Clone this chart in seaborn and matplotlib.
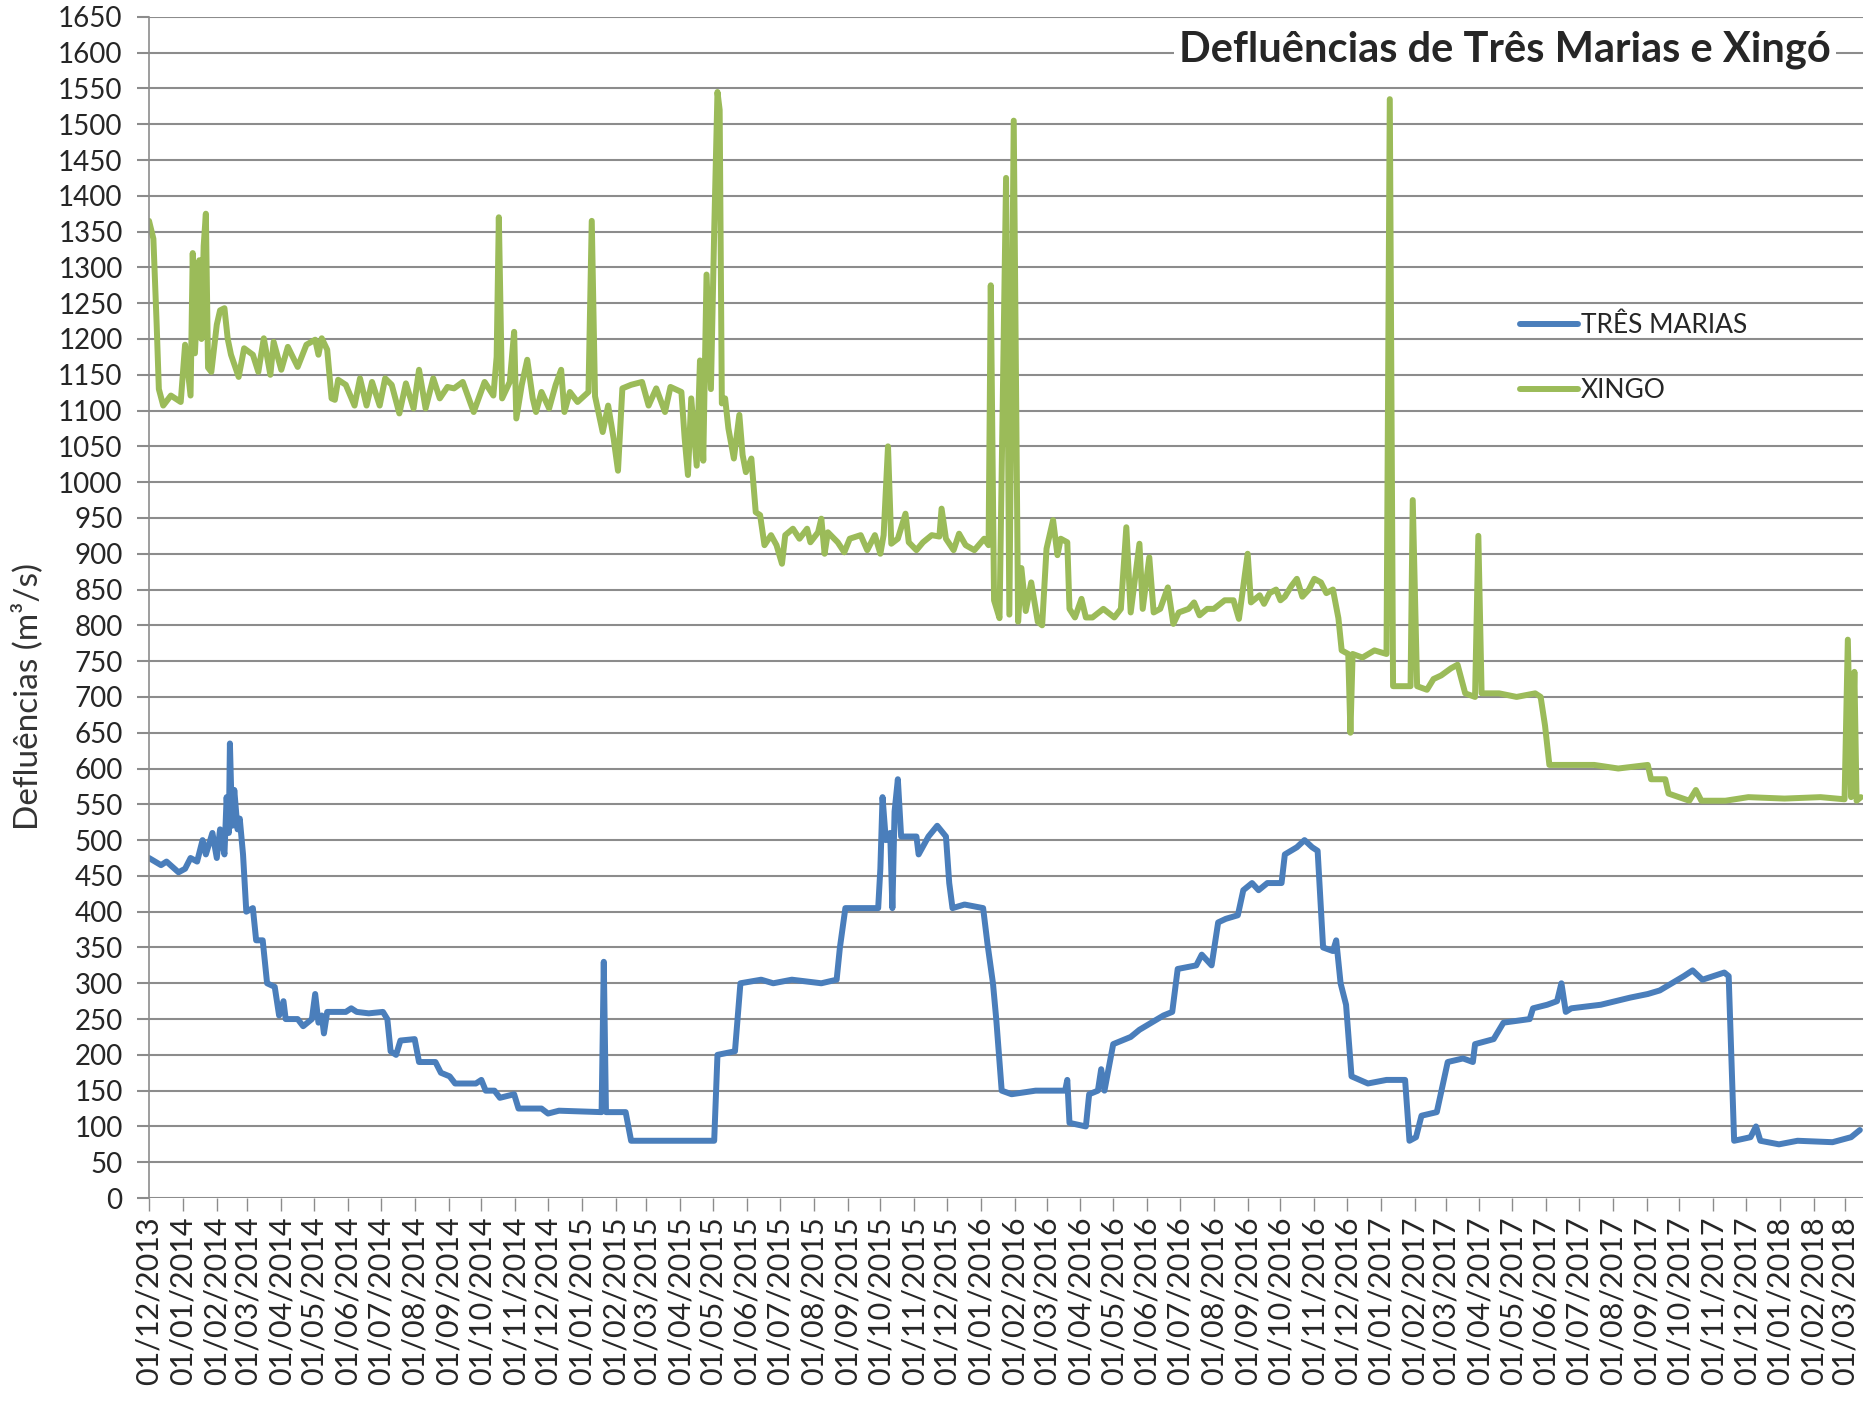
import numpy as np
import pandas as pd
import seaborn as sns
import matplotlib.pyplot as plt
import matplotlib.dates as mdates

inicio = pd.Timestamp("2013-12-01")

# dias contados a partir de 01/12/2013 e defluências (m3/s)
tm_dias = [0, 11, 16, 27, 33, 38, 44, 49, 52, 58,
           62, 65, 69, 71, 73, 74, 76, 78, 81, 83,
           86, 89, 95, 98, 104, 108, 115, 119, 123, 125,
           136, 141, 149, 152, 155, 158, 160, 163, 180, 185,
           190, 201, 214, 218, 221, 226, 230, 243, 247, 262,
           267, 275, 280, 299, 304, 308, 316, 321, 334, 338,
           359, 365, 375, 414, 416, 418, 436, 441, 473, 517,
           520, 536, 541, 560, 571, 588, 615, 629, 632, 637,
           667, 669, 671, 674, 678, 680, 682, 685, 688, 702,
           704, 713, 721, 729, 732, 735, 746, 763, 767, 772,
           775, 780, 789, 811, 838, 840, 842, 857, 860, 868,
           871, 874, 882, 898, 906, 917, 928, 936, 941, 958,
           963, 972, 978, 985, 996, 1001, 1009, 1015, 1023, 1036,
           1039, 1050, 1057, 1064, 1069, 1074, 1083, 1086, 1090, 1095,
           1100, 1115, 1132, 1149, 1153, 1159, 1164, 1178, 1183, 1188,
           1202, 1211, 1213, 1230, 1239, 1263, 1266, 1279, 1288, 1292,
           1296, 1301, 1328, 1355, 1371, 1382, 1393, 1404, 1412, 1421,
           1441, 1445, 1450, 1465, 1470, 1474, 1491, 1508, 1540, 1557,
           1565]
tm_vazao = [475, 465, 470, 455, 460, 475, 470, 500, 480, 510,
            475, 515, 480, 560, 510, 635, 520, 570, 515, 530,
            480, 400, 405, 360, 360, 300, 295, 255, 275, 250,
            250, 240, 250, 285, 245, 255, 230, 260, 260, 265,
            260, 258, 260, 250, 205, 200, 220, 222, 190, 190,
            175, 170, 160, 160, 165, 150, 150, 140, 145, 125,
            125, 118, 122, 120, 330, 120, 120, 80, 80, 80,
            200, 205, 300, 305, 300, 305, 300, 305, 350, 405,
            405, 460, 560, 500, 510, 405, 540, 585, 505, 505,
            480, 505, 520, 505, 440, 405, 410, 405, 355, 300,
            250, 150, 145, 150, 150, 165, 105, 100, 145, 150,
            180, 150, 215, 225, 235, 245, 255, 260, 320, 325,
            340, 325, 385, 390, 395, 430, 440, 430, 440, 440,
            480, 490, 500, 490, 485, 350, 345, 360, 300, 270,
            170, 160, 165, 165, 80, 85, 115, 120, 155, 190,
            195, 190, 215, 222, 245, 250, 265, 270, 275, 300,
            260, 265, 270, 280, 285, 290, 300, 310, 318, 305,
            315, 310, 80, 85, 100, 80, 75, 80, 78, 85,
            95]

xg_dias = [0, 4, 7, 9, 13, 20, 29, 33, 36, 38,
           40, 42, 46, 48, 50, 52, 54, 57, 62, 65,
           69, 72, 75, 82, 87, 95, 100, 105, 111, 114,
           121, 127, 136, 144, 152, 155, 158, 163, 167, 170,
           173, 180, 188, 193, 199, 204, 211, 216, 222, 229,
           235, 242, 247, 253, 260, 266, 273, 279, 287, 297,
           307, 315, 318, 320, 323, 330, 334, 336, 341, 346,
           351, 354, 359, 366, 372, 377, 380, 385, 392, 402,
           405, 408, 415, 420, 425, 429, 433, 441, 451, 457,
           464, 472, 477, 487, 490, 493, 496, 501, 504, 507,
           510, 514, 517, 520, 522, 524,
           527, 530, 535, 540, 543, 546, 551, 555, 559, 563,
           569, 574, 579, 582, 589, 595, 602, 605, 612, 615,
           618, 621, 630, 636, 641, 651, 657, 664, 669, 672,
           676, 679, 685, 692, 695, 702, 708, 716, 723, 725,
           729, 736, 741, 747, 755, 764, 768, 770, 773, 778,
           784, 787, 791, 795, 798, 802, 807, 813, 817, 821,
           827, 831, 834, 840, 842, 847, 853, 857, 863, 873,
           883, 889, 894, 898, 906, 909, 915, 919, 925, 932,
           937, 942, 951, 956, 961, 968, 974, 984, 992, 997,
           1005, 1008, 1016, 1020, 1025, 1031, 1035, 1039, 1045, 1050,
           1055, 1061, 1066, 1072, 1077, 1083,
           1088, 1091, 1097, 1099, 1101, 1110, 1121, 1132, 1135, 1138,
           1148, 1154, 1156, 1160, 1169, 1175, 1182, 1191, 1197, 1204,
           1213, 1216, 1219, 1235, 1251, 1268, 1273, 1277, 1281, 1301,
           1322, 1344, 1371, 1374, 1387, 1390, 1409, 1415, 1420, 1442,
           1463, 1496, 1529, 1551, 1554, 1557, 1560, 1562, 1566]
xg_vazao = [1365, 1340, 1220, 1130, 1107, 1121, 1112, 1192, 1150, 1121,
            1320, 1180, 1310, 1200, 1330, 1375, 1160, 1154, 1220, 1240,
            1243, 1200, 1178, 1147, 1187, 1178, 1154, 1201, 1150, 1196,
            1157, 1189, 1161, 1192, 1199, 1178, 1201, 1185, 1117, 1115,
            1143, 1136, 1107, 1145, 1107, 1140, 1107, 1145, 1136, 1096,
            1138, 1103, 1157, 1103, 1145, 1117, 1133, 1131, 1140, 1098,
            1140, 1121, 1175, 1370, 1117, 1140, 1210, 1089, 1136, 1171,
            1117, 1098, 1126, 1103, 1136, 1157, 1098, 1126, 1112, 1126,
            1365, 1120, 1070, 1107, 1061, 1016, 1131, 1136, 1140, 1107,
            1131, 1098, 1133, 1126, 1061, 1010, 1117, 1023, 1170, 1030,
            1290, 1130, 1350, 1545, 1520, 1110,
            1117, 1075, 1033, 1094, 1038, 1014, 1033, 958, 954, 912,
            926, 912, 886, 926, 935, 921, 935, 916, 930, 949,
            900, 930, 916, 902, 921, 926, 905, 926, 900, 926,
            1050, 914, 921, 956, 916, 905, 916, 926, 924, 963,
            921, 905, 928, 912, 905, 921, 912, 1275, 835, 810,
            1425, 815, 1505, 805, 880, 820, 860, 805, 800, 907,
            947, 898, 921, 916, 823, 811, 837, 811, 811, 823,
            811, 823, 937, 818, 914, 823, 895, 818, 823, 853,
            802, 818, 823, 832, 814, 823, 823, 835, 835, 809,
            900, 832, 842, 830, 845, 850, 835, 840, 855, 865,
            840, 850, 865, 860, 845, 850,
            810, 765, 760, 650, 760, 755, 765, 760, 1535, 715,
            715, 715, 975, 715, 710, 725, 730, 740, 745, 705,
            700, 925, 705, 705, 700, 705, 700, 660, 605, 605,
            605, 600, 605, 585, 585, 565, 555, 570, 555, 555,
            560, 558, 560, 557, 780, 560, 735, 555, 560]

series = ["TRÊS MARIAS", "XINGO"]
cores = ["#4A7EBB", "#9BBB59"]

df = pd.concat([
    pd.DataFrame({"data": inicio + pd.to_timedelta(tm_dias, unit="D"),
                  "vazao": tm_vazao, "serie": series[0]}),
    pd.DataFrame({"data": inicio + pd.to_timedelta(xg_dias, unit="D"),
                  "vazao": xg_vazao, "serie": series[1]}),
], ignore_index=True)

sns.set_style("white")
plt.rcParams["font.family"] = ["Lato", "DejaVu Sans"]

fig = plt.figure(figsize=(18.65, 14.04), dpi=100)
ax = fig.add_axes([0.0799, 0.1467, 0.9191, 0.8413])

sns.lineplot(data=df, x="data", y="vazao", hue="serie", palette=cores,
             estimator=None, sort=False, linewidth=4.3, ax=ax)

ax.set_ylim(0, 1650)
ax.set_xlim(inicio, pd.Timestamp("2018-03-18"))
ax.set_yticks(np.arange(0, 1651, 50))
ax.grid(axis="y", color="#8C8C8C", linewidth=1.5)
ax.grid(axis="x", visible=False)
ax.set_axisbelow(True)

for lado in ["top", "right", "bottom"]:
    ax.spines[lado].set_visible(False)
ax.spines["left"].set_color("#8C8C8C")
ax.spines["left"].set_linewidth(1.2)

ax.xaxis.set_major_locator(mdates.MonthLocator())
ax.xaxis.set_major_formatter(mdates.DateFormatter("%d/%m/%Y"))
ax.tick_params(axis="x", which="major", direction="out", length=9, width=1,
               color="#8C8C8C", labelsize=22, rotation=90, pad=4, bottom=True)
ax.tick_params(axis="y", direction="out", length=9, width=1.5,
               color="#8C8C8C", labelsize=20, pad=10, left=True)

ax.set_xlabel("")
ax.set_ylabel("Defluências (m³/s)", fontsize=24, color="#333333")
ax.yaxis.set_label_coords(-0.062, 0.425)

ax.text(0.791, 0.972, "Defluências de Três Marias e Xingó", transform=ax.transAxes,
        ha="center", va="center", fontsize=30, fontweight="bold",
        bbox=dict(facecolor="white", edgecolor="none", pad=4))

handles, labels = ax.get_legend_handles_labels()
ax.legend(handles, labels, loc="upper left", bbox_to_anchor=(0.80, 0.749),
          frameon=False, fontsize=19, handlelength=2.2, handletextpad=0.1,
          labelspacing=1.5, borderpad=0, borderaxespad=0)

plt.savefig("out.png", dpi=100)
plt.close()
